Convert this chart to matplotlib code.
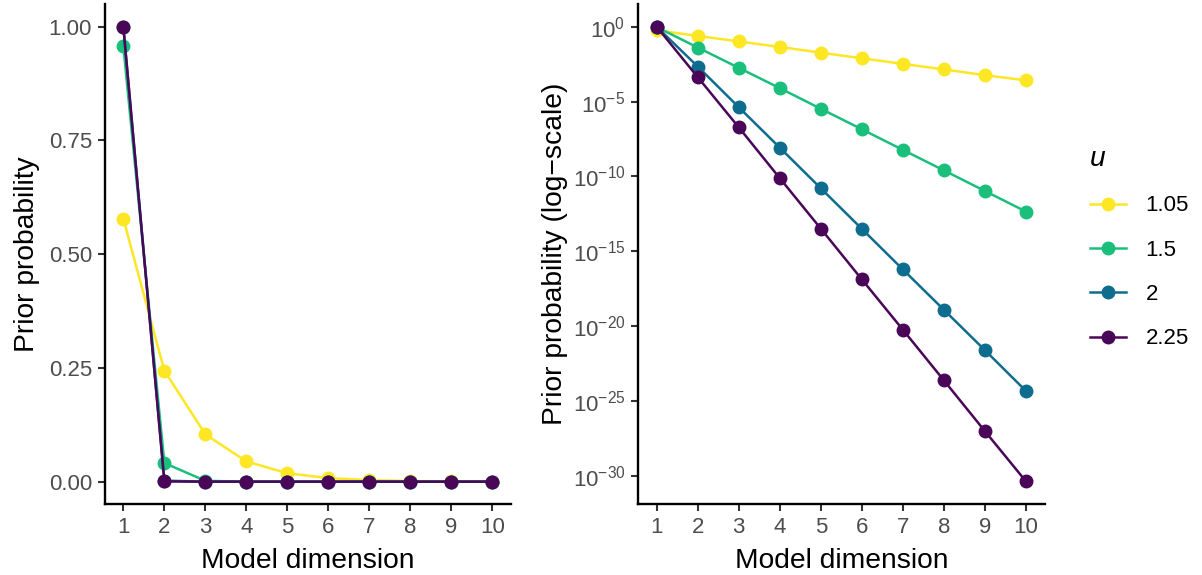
import matplotlib
matplotlib.use("Agg")
import matplotlib.pyplot as plt
from matplotlib.lines import Line2D
import numpy as np

plt.rcParams['font.family'] = ['Liberation Sans', 'DejaVu Sans']
plt.rcParams['mathtext.fontset'] = 'custom'
plt.rcParams['mathtext.rm'] = 'Liberation Sans'
plt.rcParams['mathtext.it'] = 'Liberation Sans:italic'

dims = [1, 2, 3, 4, 5, 6, 7, 8, 9, 10]
u_labels = ["1.05", "1.5", "2", "2.25"]
p_105 = [0.578, 0.244, 0.104, 0.0445, 0.0185, 0.0078, 0.0033, 0.0014, 0.00058, 0.00026]
p_15 = [0.957, 0.041, 1.8e-3, 7.9e-5, 3.3e-6, 1.4e-7, 5.9e-9, 2.5e-10, 1.05e-11, 4.4e-13]
p_2 = [0.9995, 2.2e-3, 4.2e-6, 8.3e-9, 1.6e-11, 3.1e-14, 6.0e-17, 1.2e-19, 2.4e-22, 4.5e-25]
p_225 = [1.0, 4.3e-4, 1.9e-7, 7.6e-11, 3.2e-14, 1.3e-17, 5.6e-21, 2.3e-24, 9.3e-28, 4.1e-31]
series = [p_105, p_15, p_2, p_225]
colors = ["#FDE725", "#1BBF7C", "#0E6D8F", "#4A0657"]

lin_ticks = [0.00, 0.25, 0.50, 0.75, 1.00]
lin_ticklabels = ["0.00", "0.25", "0.50", "0.75", "1.00"]
log_exps = [0, -5, -10, -15, -20, -25, -30]

W, H = 1202, 575
top_px, bot_px = 4.0, 504.4
fig = plt.figure(figsize=(W / 100, H / 100), dpi=100)
ax1 = fig.add_axes([104.9 / W, (H - bot_px) / H, (510.8 - 104.9) / W, (bot_px - top_px) / H])
ax2 = fig.add_axes([638.2 / W, (H - bot_px) / H, (1044.5 - 638.2) / W, (bot_px - top_px) / H])

TICK_FS = 16
TITLE_FS = 20.3
LEG_FS = 16
LW = 1.8
MS = 9

for ax in (ax1, ax2):
    for lab, vals, c in zip(u_labels, series, colors):
        ax.plot(dims, vals, color=c, lw=LW, marker='o', ms=MS, label=lab, solid_capstyle='butt')
    for s in ('top', 'right'):
        ax.spines[s].set_visible(False)
    for s in ('left', 'bottom'):
        ax.spines[s].set_linewidth(1.7)
        ax.spines[s].set_color('black')
    ax.tick_params(axis='both', length=4.8, width=1.5, color='#333333',
                   labelsize=TICK_FS, labelcolor='#4D4D4D', pad=4.5)
    ax.set_xticks(dims)
    ax.set_xticklabels([str(d) for d in dims])
    ax.set_xlim(0.55, 10.45)
    ax.set_xlabel("Model dimension", fontsize=TITLE_FS, labelpad=6.7)
    ax.minorticks_off()

ax1.set_ylim(-0.05, 1.05)
ax1.set_yticks(lin_ticks)
ax1.set_yticklabels(lin_ticklabels)
ax1.set_ylabel("Prior probability", fontsize=TITLE_FS, labelpad=6.2)

ax2.set_yscale('log')
ax2.set_ylim(10 ** (-31.92), 10 ** 1.52)
ax2.set_yticks([10.0 ** e for e in log_exps])
ax2.set_yticklabels([r"$10^{%d}$" % e if e == 0 else r"$10^{-%d}$" % (-e) for e in log_exps])
ax2.minorticks_off()
ax2.tick_params(axis='y', which='minor', length=0)
ax2.set_ylabel("Prior probability (log\u2212scale)", fontsize=TITLE_FS, labelpad=3)

handles = [Line2D([0], [0], color=c, lw=LW, marker='o', ms=MS) for c in colors]
leg = fig.legend(handles, u_labels, loc='upper left', bbox_to_anchor=(1090 / W, 1 - 146 / H),
                 frameon=False, fontsize=LEG_FS, title="u",
                 title_fontproperties={'style': 'italic', 'size': TITLE_FS},
                 handlelength=1.6, handletextpad=0.9, labelspacing=1.05, alignment='left',
                 borderaxespad=0, borderpad=0)

fig.savefig("out.png", dpi=100)
